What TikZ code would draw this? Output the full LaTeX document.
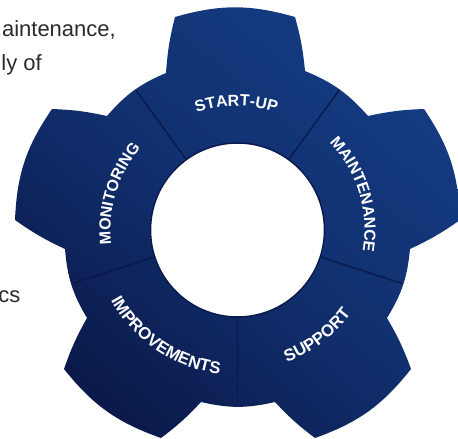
\documentclass[tikz,border=0pt]{standalone}
\usepackage{fontspec}
\setmainfont{Liberation Sans}
\usetikzlibrary{decorations.text,calc}
\definecolor{gearlight}{HTML}{143B82}
\definecolor{gearmid}{HTML}{11306F}
\definecolor{geardark}{HTML}{0B1A4B}
\definecolor{seam}{HTML}{0A1A4C}
\definecolor{bodytext}{HTML}{2B2B2B}
\newcommand{\lab}{\fontsize{16}{16}\selectfont\bfseries\color{white}}
\newcommand{\labb}{\fontsize{16.8}{16.8}\selectfont\bfseries\color{white}}
\tikzset{
  x=1pt,y=1pt,
  seamline/.style={draw=seam,line width=1.5pt},
  hub/.style={circle,draw=seam,line width=1.5pt,fill=white,inner sep=0pt,minimum size=174pt},
  bodylabel/.style={anchor=base east,inner sep=0pt,text=bodytext,font=\fontsize{22}{22}\selectfont},
  geartext/.style={decorate,decoration={text along path,text align=center,text={#1}}}
}
\begin{document}
\begin{tikzpicture}
\useasboundingbox (0,0) rectangle (458,439);
\coordinate (c) at (237.5,209);
\node[bodylabel] (t1) at (116,402) {aintenance,};
\node[bodylabel] (t2) at (42,368) {ly of};
\node[bodylabel] (t3) at (20.5,136) {cs};
\path[bottom color=geardark,top color=gearlight,middle color=gearmid,shading angle=-40]
  (175,422) to[bend left=16] (295,422) to[bend left=5] (305,368)
  to[bend left=13] (368,323) to[bend left=5] (424,330)
  to[bend left=16] (460,219) to[bend left=5] (410,190)
  to[bend left=13] (387,121) to[bend left=5] (411,70)
  to[bend left=16] (315,1) to[bend left=5] (275,37)
  to[bend left=13] (201,37) to[bend left=5] (161,1)
  to[bend left=16] (64,70) to[bend left=5] (87,121)
  to[bend left=13] (65,190) to[bend left=5] (15,219)
  to[bend left=16] (52,330) to[bend left=5] (107,323)
  to[bend left=13] (166,366) to[bend left=5] cycle;
\node[hub] (h) at (c) {};
\foreach \a in {54,126,198,270,342}
  \draw[seamline] (h.\a) -- ($(c)+(\a:173)$);
\path[geartext={|\lab|START-UP}] (c) ++(130.5:124) arc[start angle=130.5,end angle=50.5,radius=124];
\path[geartext={|\lab|MAINTENANCE}] (c) ++(64:127) arc[start angle=64,end angle=-30,radius=127];
\path[geartext={|\lab|MONITORING}] (c) ++(209:127) arc[start angle=209,end angle=117,radius=127];
\path[geartext={|\labb|SUPPORT}] (c) ++(-97:141) arc[start angle=-97,end angle=-9,radius=141];
\path[geartext={|\labb|IMPROVEMENTS}] (c) ++(188:145) arc[start angle=188,end angle=284,radius=145];
\end{tikzpicture}
\end{document}
